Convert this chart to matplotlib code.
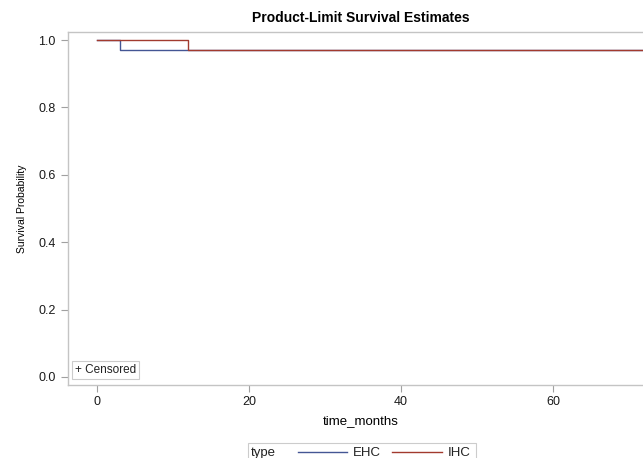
import matplotlib
matplotlib.use("Agg")
import matplotlib.pyplot as plt
from matplotlib.lines import Line2D
from matplotlib.patches import Rectangle

plt.rcParams["font.family"] = ["Liberation Sans", "DejaVu Sans"]

# step data: time (months) and survival estimate
ehc_time = [0, 3, 75]
ehc_surv = [1.0, 0.972, 0.972]
ihc_time = [0, 12, 75]
ihc_surv = [1.0, 0.972, 0.972]

group_names = ["EHC", "IHC"]
group_colors = ["#445694", "#A23A2E"]
x_ticks = [0, 20, 40, 60]
y_ticks = [0.0, 0.2, 0.4, 0.6, 0.8, 1.0]

W, H = 643, 458
fig = plt.figure(figsize=(W / 100, H / 100), dpi=100)
# axes runs off the right edge, like the cropped original
ax = fig.add_axes([68 / W, 1 - 385 / H, (654 - 68) / W, (385 - 32) / H])

ax.step(ehc_time, ehc_surv, where="post", color=group_colors[0], lw=1.0)
ax.step(ihc_time, ihc_surv, where="post", color=group_colors[1], lw=1.0)

ax.set_xlim(-3.8, 73.3)
ax.set_ylim(-0.024, 1.024)
ax.set_xticks(x_ticks)
ax.set_yticks(y_ticks)
ax.set_yticklabels([f"{v:.1f}" for v in y_ticks])
ax.tick_params(colors="#a0a0a0", labelcolor="#1a1a1a", labelsize=9, length=5, width=0.8)
ax.tick_params(axis="y", pad=4)
ax.tick_params(axis="x", pad=3)

for side in ["top", "bottom", "left"]:
    ax.spines[side].set_color("#c4c4c4")
    ax.spines[side].set_linewidth(1.0)
ax.spines["right"].set_visible(False)

ax.set_title("Product-Limit Survival Estimates", fontsize=10, fontweight="bold", pad=7)
ax.set_xlabel("time_months", fontsize=9.5, labelpad=5)
ax.set_ylabel("Survival Probability", fontsize=7.5, labelpad=8,
              family=["Liberation Sans Narrow", "Liberation Sans", "DejaVu Sans"])

# censored note in lower left
ax.text(0.012, 0.025, "+ Censored", transform=ax.transAxes, fontsize=8.5, color="#222222",
        ha="left", va="bottom",
        bbox=dict(boxstyle="square,pad=0.25", fc="white", ec="#cccccc", lw=0.8))

# legend at the bottom, laid out by hand in pixel coords
def px(x, y):
    return x / W, 1 - y / H

box_x0, box_x1, box_y0 = 248, 476, 443
fig.patches.append(Rectangle(px(box_x0, H + 2), (box_x1 - box_x0) / W, (H + 2 - box_y0) / H,
                             transform=fig.transFigure, fc="white", ec="#cccccc", lw=0.8))
line_y = 451.5
text_y = 453
fig.text(*px(251, text_y), "type", fontsize=9.5, ha="left", va="center", color="#222222")
line_spans = [(298, 347), (392, 442)]
label_x = [353, 448]
for (x0, x1), lx, name, col in zip(line_spans, label_x, group_names, group_colors):
    fig.add_artist(Line2D([x0 / W, x1 / W], [1 - line_y / H] * 2, transform=fig.transFigure,
                          color=col, lw=1.0))
    fig.text(*px(lx, text_y), name, fontsize=9.5, ha="left", va="center", color="#222222")

fig.savefig("out.png", dpi=100)
